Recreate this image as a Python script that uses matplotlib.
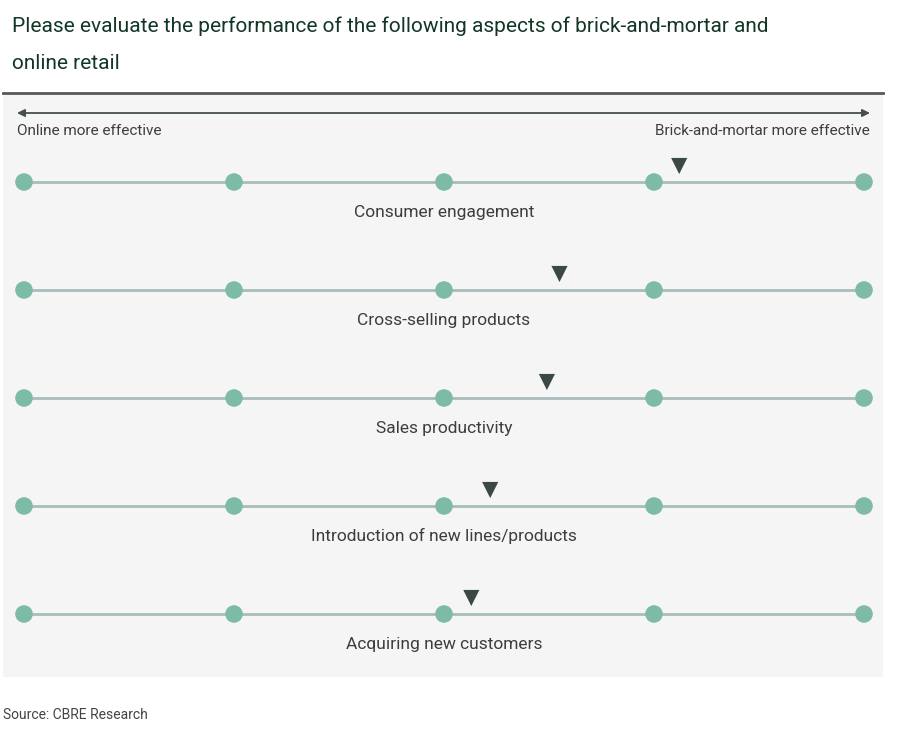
import matplotlib
matplotlib.use("Agg")
import matplotlib.pyplot as plt
from matplotlib.lines import Line2D

# data
aspects = [
    "Consumer engagement",
    "Cross-selling products",
    "Sales productivity",
    "Introduction of new lines/products",
    "Acquiring new customers",
]
# position on a 1 (online more effective) to 5 (brick-and-mortar more effective) scale
scores = [4.12, 3.55, 3.49, 3.22, 3.13]
scale_points = [1, 2, 3, 4, 5]

title = "Please evaluate the performance of the following aspects of brick-and-mortar and\nonline retail"
left_label = "Online more effective"
right_label = "Brick-and-mortar more effective"
source = "Source: CBRE Research"

W, H = 900, 733
fig = plt.figure(figsize=(W / 100, H / 100), dpi=100)
fig.patch.set_facecolor("white")
plt.rcParams["font.family"] = ["Roboto", "DejaVu Sans"]

# panel axes in pixel placement
px_left, px_right, px_top, px_bottom = 3, 883, 93, 677
ax = fig.add_axes([px_left / W, 1 - px_bottom / H,
                   (px_right - px_left) / W, (px_bottom - px_top) / H])
ax.set_facecolor("#f5f5f5")
for s in ax.spines.values():
    s.set_visible(False)
ax.set_xticks([])
ax.set_yticks([])

unit = 210.0  # px per scale unit
row_px = 108.0
ax.set_xlim(1 - (24 - px_left) / unit, 5 + (px_right - 864) / unit)
ax.set_ylim(len(aspects) - 1 + (px_bottom - 614) / row_px, -(182 - px_top) / row_px)

line_c = "#a9bcbc"
dot_c = "#7dbba6"
tri_c = "#3b4846"
text_c = "#3d3d3d"

for i, (name, val) in enumerate(zip(aspects, scores)):
    ax.plot([scale_points[0], scale_points[-1]], [i, i], color=line_c, lw=2, zorder=1)
    ax.scatter(scale_points, [i] * len(scale_points), s=160, color=dot_c,
               edgecolors="none", zorder=2)
    ax.scatter([val], [i - 16 / row_px], marker="v", s=135, color=tri_c,
               edgecolors="none", zorder=3)
    ax.text(3, i + 30 / row_px, name, ha="center", va="center",
            fontsize=12.5, color=text_c)

# double arrow
arrow_y = -(182 - 113) / row_px
x0 = 1 - (24 - 17) / unit
x1 = 5 + (870 - 864) / unit
ax.annotate("", xy=(x1, arrow_y), xytext=(x0, arrow_y),
            arrowprops=dict(arrowstyle="<|-|>", color="#454f4d", lw=1.3,
                            mutation_scale=11, shrinkA=0, shrinkB=0))
lab_y = -(182 - 131) / row_px
ax.text(x0, lab_y, left_label, ha="left", va="center", fontsize=11, color=text_c)
ax.text(x1, lab_y, right_label, ha="right", va="center", fontsize=11, color=text_c)

# dark rule above panel
fig.add_artist(Line2D([px_left / W, px_right / W], [1 - px_top / H] * 2,
                      color="#555a59", lw=2))

fig.text(12 / W, 1 - 16 / H, title, ha="left", va="top", fontsize=15,
         color="#133626", linespacing=2.25)
fig.text(3 / W, 1 - 715 / H, source, ha="left", va="center", fontsize=10,
         color="#444444")

fig.savefig("out.png", dpi=100)
